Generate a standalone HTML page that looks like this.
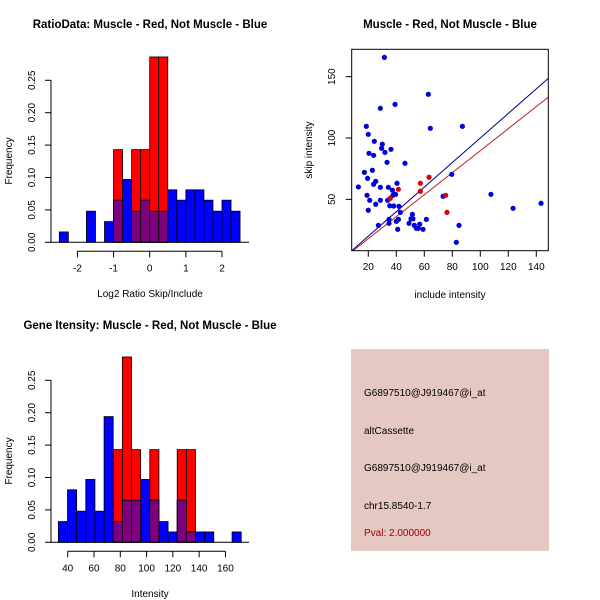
<!DOCTYPE html>
<html><head><meta charset="utf-8"><style>
body{margin:0;background:#fff}
svg{display:block;font-family:"Liberation Sans",sans-serif}
</style></head><body>
<svg id="s" width="600" height="600" viewBox="0 0 600 600">
<rect width="600" height="600" fill="#fff"/>
<text x="150" y="28" text-anchor="middle" font-size="11.5" font-weight="bold">RatioData: Muscle - Red, Not Muscle - Blue</text>
<text x="450" y="28" text-anchor="middle" font-size="11.5" font-weight="bold">Muscle - Red, Not Muscle - Blue</text>
<text x="150" y="329" text-anchor="middle" font-size="11.5" font-weight="bold">Gene Itensity: Muscle - Red, Not Muscle - Blue</text>
<text x="150" y="297" text-anchor="middle" font-size="10">Log2 Ratio Skip/Include</text>
<text x="150" y="597" text-anchor="middle" font-size="10">Intensity</text>
<text x="450" y="298" text-anchor="middle" font-size="10">include intensity</text>
<text transform="translate(12,161) rotate(-90)" text-anchor="middle" font-size="10">Frequency</text>
<text transform="translate(12,461) rotate(-90)" text-anchor="middle" font-size="10">Frequency</text>
<text transform="translate(312,150) rotate(-90)" text-anchor="middle" font-size="10">skip intensity</text>
<g>
<rect x="351" y="349" width="198" height="202" fill="#e6c8c2"/>
<text x="364" y="396" font-size="10">G6897510@J919467@i_at</text>
<text x="364" y="434" font-size="10">altCassette</text>
<text x="364" y="471" font-size="10">G6897510@J919467@i_at</text>
<text x="364" y="509" font-size="10">chr15.8540-1.7</text>
<text x="364" y="536" font-size="10" fill="#a00000">Pval: 2.000000</text>
</g>
</svg>
<script>
const ratioBlue=[0.016,0,0,0.048,0,0.032,0.065,0.097,0.048,0.065,0.048,0.048,0.081,0.065,0.081,0.081,0.065,0.048,0.065,0.048];
const ratioRed=[0,0,0,0,0,0,0.143,0,0.143,0.143,0.286,0.286,0,0,0,0,0,0,0,0];
const ratioXTicks=[-2,-1,0,1,2];
const intBlue=[0.032,0.081,0.048,0.097,0.048,0.194,0.032,0.065,0.065,0.097,0.065,0.032,0.016,0.065,0.016,0.016,0.016,0,0,0.016];
const intRed=[0,0,0,0,0,0,0.143,0.286,0.143,0,0.143,0,0,0.143,0.143,0,0,0,0,0];
const intXTicks=[40,60,80,100,120,140,160];
const freqTicks=["0.00","0.05","0.10","0.15","0.20","0.25"];
const blueX=[12.9,17.2,18.6,19.1,19.5,20.0,20.0,20.5,21.0,22.9,23.8,23.8,24.3,25.3,25.3,27.2,28.6,28.6,28.6,29.5,30.0,31.5,31.9,33.4,33.8,34.3,34.8,34.8,35.3,36.2,37.2,37.6,38.1,38.6,39.1,39.5,40.0,40.5,41.0,41.5,41.9,42.9,46.2,49.1,50.5,51.5,51.9,52.9,54.3,55.7,56.7,59.1,61.5,62.9,64.3,73.4,79.6,82.9,84.8,87.2,107.6,123.4,143.4];
const blueY=[60.1,72.0,109.5,53.3,67.1,103,41.1,87.5,49.2,73.7,85.9,62.3,97.3,46.0,64.7,28.8,124.2,59.8,49.2,91.6,94.9,165.7,88.3,80.2,49.2,59.8,30.5,33.7,44.8,90.8,57.4,53.3,44.6,54.1,127.4,54.1,32.1,63.1,25.6,33.7,44.3,39.4,79.4,30.5,34.2,37.8,34.2,28.8,26.4,26.4,29.7,25.6,33.7,135.6,107.9,52.5,70.4,15.0,28.8,109.5,54.1,42.7,46.8];
const redX=[35.7,41.5,57.2,57.2,63.4,75.3,76.2];
const redY=[50.9,58.2,63.1,56.6,68.0,53.3,39.4];
const scatterXTicks=[20,40,60,80,100,120,140];
const scatterYTicks=[50,100,150];
const redSlope=0.897;

const NS="http://www.w3.org/2000/svg", svg=document.getElementById('s');
function mk(t,a,p){const e=document.createElementNS(NS,t);for(const k in a)e.setAttribute(k,a[k]);(p||svg).appendChild(e);return e;}

function hist(blue,red,x0,bw,xs,xt,yBase,yTop,ticks,labels,name){
  const ys=v=>yBase-(yBase-yTop)*v/0.25;
  const g=mk('g',{});
  
  
  const bx=i=>xs(x0+i*bw), w=xs(x0+bw)-xs(x0);
  blue.forEach((v,i)=>{if(v>0){const r=mk('rect',{x:bx(i),y:ys(v),width:w,height:yBase-ys(v),fill:'#0000ff',stroke:'#000','stroke-width':0.8},g);
    
    }});
  red.forEach((v,i)=>{if(v>0){const r=mk('rect',{x:bx(i),y:ys(v),width:w,height:yBase-ys(v),fill:'#ff0000',stroke:'#000','stroke-width':0.8},g);
    
    
    const m=Math.min(v,blue[i]);if(m>0){const p=mk('rect',{x:bx(i),y:ys(m),width:w,height:yBase-ys(m),fill:'#7f007f',stroke:'#000','stroke-width':0.8},g);
    
    }}});
  const ya=mk('g',{},g);
  
  
  mk('line',{x1:51,x2:51,y1:ys(0),y2:ys(0.25),stroke:'#000'},ya);
  labels.forEach((l,i)=>{const v=i*0.05,y=ys(v);mk('line',{x1:45,x2:51,y1:y,y2:y,stroke:'#000'},ya);
    const t=mk('text',{transform:`translate(35,${y}) rotate(-90)`,'text-anchor':'middle','font-size':10},ya);t.textContent=l;});
  mk('line',{x1:50,x2:249,y1:yBase,y2:yBase,stroke:'#000'},g);
  const xa=mk('g',{},g);
  
  
  const ay=yBase+9;
  mk('line',{x1:xs(ticks[0]),x2:xs(ticks[ticks.length-1]),y1:ay,y2:ay,stroke:'#000'},xa);
  ticks.forEach(t=>{mk('line',{x1:xs(t),x2:xs(t),y1:ay,y2:ay+6,stroke:'#000'},xa);
    const tx=mk('text',{x:xs(t),y:ay+20,'text-anchor':'middle','font-size':10},xa);tx.textContent=t;});
}
hist(ratioBlue,ratioRed,-2.5,0.25,v=>149.7+v*36.15,null,242.3,80.3,ratioXTicks,freqTicks,'ratio-histogram');
hist(intBlue,intRed,32.9,6.955,v=>67.7+(v-40)*1.3145,null,542.3,380.3,intXTicks,freqTicks,'intensity-histogram');

const sx=v=>340.3+v*1.4, sy=v=>260.7-v*1.227;
const sg=mk('g',{});


mk('defs',{}).innerHTML='<clipPath id="c"><rect x="351.7" y="49.3" width="196.6" height="201.4"/></clipPath>';
const X0=8.1,X1=148.6;
const l1=mk('line',{x1:sx(X0),y1:sy(X0),x2:sx(X1),y2:sy(X1),stroke:'#00008b','clip-path':'url(#c)'},sg);


const l2=mk('line',{x1:sx(0),y1:sy(0),x2:sx(X1),y2:sy(X1*redSlope),stroke:'#b22222','clip-path':'url(#c)'},sg);


blueX.forEach((x,i)=>{const c=mk('circle',{cx:sx(x),cy:sy(blueY[i]),r:2.6,fill:'#0000dd'},sg);
  
  });
redX.forEach((x,i)=>{const c=mk('circle',{cx:sx(x),cy:sy(redY[i]),r:2.6,fill:'#dd0000'},sg);
  
  });
mk('rect',{x:351.7,y:49.3,width:196.6,height:201.4,fill:'none',stroke:'#000'},sg);
const sxa=mk('g',{},sg);


scatterXTicks.forEach(t=>{mk('line',{x1:sx(t),x2:sx(t),y1:250.7,y2:256.7,stroke:'#000'},sxa);
  const tx=mk('text',{x:sx(t),y:270,'text-anchor':'middle','font-size':10},sxa);tx.textContent=t;});
const sya=mk('g',{},sg);


scatterYTicks.forEach(t=>{mk('line',{x1:345.7,x2:351.7,y1:sy(t),y2:sy(t),stroke:'#000'},sya);
  const tx=mk('text',{transform:`translate(335,${sy(t)}) rotate(-90)`,'text-anchor':'middle','font-size':10},sya);tx.textContent=t;});
</script>
</body></html>
